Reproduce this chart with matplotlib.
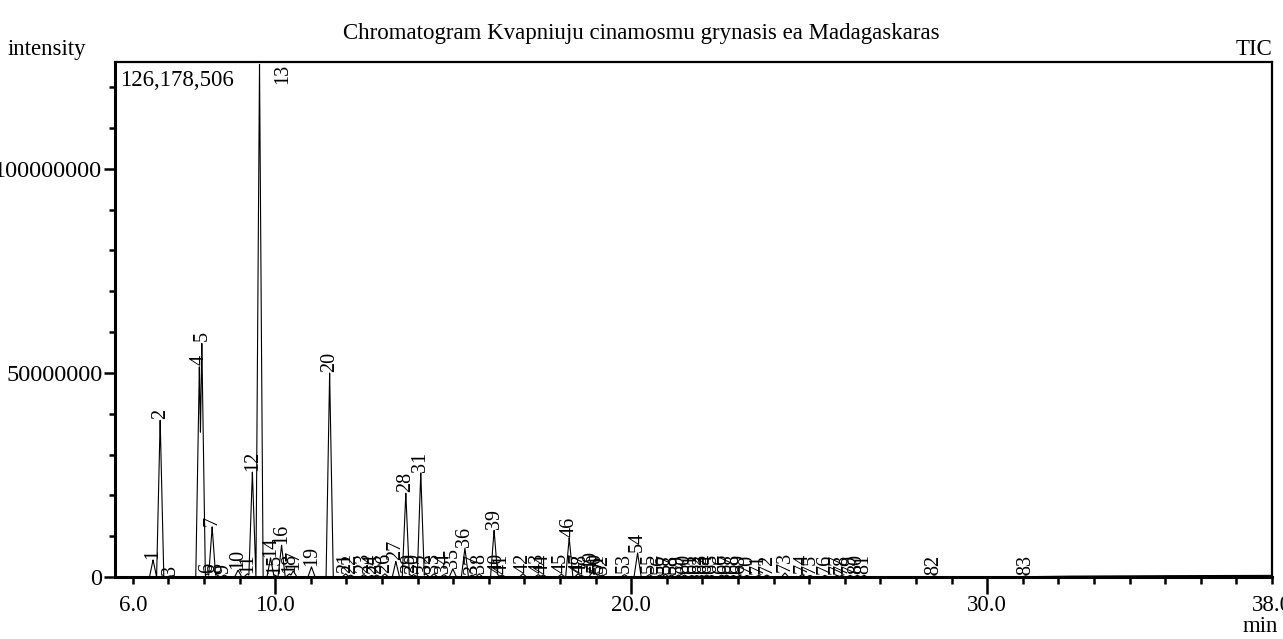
import numpy as np
import matplotlib
matplotlib.use("Agg")
import matplotlib.pyplot as plt

plt.rcParams['font.family'] = ['Liberation Serif', 'DejaVu Serif']

# peak retention times (min) and heights (counts)
peak_ids = list(range(1, 84))
peak_times = [6.57, 6.77, 7.05, 7.87, 7.94, 8.09, 8.23, 8.35, 8.57, 8.96,
              9.22, 9.36, 9.56, 9.87, 9.98, 10.18, 10.51, 10.40, 11.02, 11.53,
              11.98, 12.12, 12.49, 12.71, 12.85, 13.08, 13.39, 13.67, 13.78, 13.89,
              14.09, 14.23, 14.46, 14.74, 14.99, 15.33, 15.53, 15.73, 16.15, 16.23,
              16.37, 16.96, 17.39, 17.53, 18.04, 18.26, 18.51, 18.60, 18.91, 18.99,
              19.08, 19.19, 19.81, 20.18, 20.51, 20.80, 20.96, 21.13, 21.33, 21.50,
              21.70, 21.84, 21.98, 22.12, 22.26, 22.54, 22.68, 22.87, 23.05, 23.25,
              23.58, 23.81, 24.32, 24.80, 25.02, 25.44, 25.78, 25.92, 26.15, 26.35,
              26.54, 28.51, 31.08]
peak_heights_m = [4.2, 38.5, 0.3, 51.7, 57.4, 0.8, 12.3, 0.6, 0.5, 1.7,
                  0.8, 25.7, 126.178506, 4.7, 0.5, 7.8, 1.5, 0.8, 2.5, 50.0,
                  0.8, 0.5, 0.6, 0.4, 0.5, 0.8, 3.8, 20.6, 0.6, 0.6,
                  25.5, 0.8, 0.8, 0.6, 2.0, 7.1, 0.5, 0.8, 11.5, 0.8,
                  0.5, 0.8, 0.6, 0.5, 0.7, 9.6, 0.8, 0.4, 1.2, 1.0,
                  0.6, 0.5, 0.6, 5.9, 0.6, 0.5, 0.7, 0.5, 0.5, 0.5,
                  0.4, 0.4, 0.4, 0.5, 0.4, 0.5, 0.5, 0.4, 0.4, 0.4,
                  0.4, 0.5, 1.0, 0.6, 0.4, 0.4, 0.4, 0.4, 0.4, 0.4,
                  0.4, 0.3, 0.3]

# slow baseline rise at the end of the run
base_times = [5.5, 30.5, 32.0, 34.0, 36.0, 38.0]
base_levels_m = [0.0, 0.0, 0.2, 0.3, 0.35, 0.4]

y_max = 126178506
x_ticks = [6.0, 10.0, 20.0, 30.0, 38.0]

t = np.linspace(5.5, 38.0, 30000)
sig = np.interp(t, base_times, base_levels_m) * 1e6
half_w = 0.1
for pt, ph in zip(peak_times, peak_heights_m):
    sig = np.maximum(sig, ph * 1e6 * np.clip(1 - np.abs(t - pt) / half_w, 0, 1))

fig = plt.figure(figsize=(12.83, 6.39), dpi=100)
ax = fig.add_axes([0.0896, 0.097, 0.9018, 0.806])
ax.plot(t, sig, color='black', lw=0.8)
ax.set_xlim(5.5, 38.0)
ax.set_ylim(0, y_max)

for pid, pt, ph in zip(peak_ids, peak_times, peak_heights_m):
    if pid == 13:
        ax.text(pt + 0.65, y_max * 0.997, str(pid), rotation=90, ha='center',
                va='top', fontsize=14.5)
    else:
        ax.text(pt, ph * 1e6 + 0.3e6, str(pid), rotation=90, ha='center',
                va='bottom', fontsize=14.5)

ax.set_xticks(x_ticks)
ax.set_xticklabels(['%.1f' % v for v in x_ticks])
ax.set_xticks(np.arange(6, 38, 1.0), minor=True)
ax.set_yticks([0, 50000000, 100000000])
ax.set_yticklabels(['0', '50000000', '100000000'])
ax.set_yticks(np.arange(0, 126e6, 10e6), minor=True)
ax.tick_params(axis='both', which='both', direction='out', width=1.8,
               colors='black')
ax.tick_params(axis='x', which='major', length=12, pad=1, labelsize=16.5)
ax.tick_params(axis='x', which='minor', length=5)
ax.tick_params(axis='y', which='major', length=8, pad=1, labelsize=17.5)
ax.tick_params(axis='y', which='minor', length=4)
# 6.0 and 38.0 only get short ticks
for i in (0, 4):
    ax.xaxis.get_major_ticks()[i].tick1line.set_markersize(5)

for side in ('left', 'bottom'):
    ax.spines[side].set_linewidth(2.2)
for side in ('top', 'right'):
    ax.spines[side].set_linewidth(1.6)

ax.text(0.004, 0.985, '126,178,506', transform=ax.transAxes, ha='left', va='top',
        fontsize=16.5)
fig.text(0.5, 0.948, 'Chromatogram Kvapniuju cinamosmu grynasis ea Madagaskaras',
         ha='center', va='center', fontsize=16.5)
fig.text(0.006, 0.922, 'intensity', ha='left', va='center', fontsize=16.5)
fig.text(0.9914, 0.922, 'TIC', ha='right', va='center', fontsize=16.5)
fig.text(0.996, 0.02, 'min', ha='right', va='center', fontsize=16.5)

fig.savefig('out.png', dpi=100)
